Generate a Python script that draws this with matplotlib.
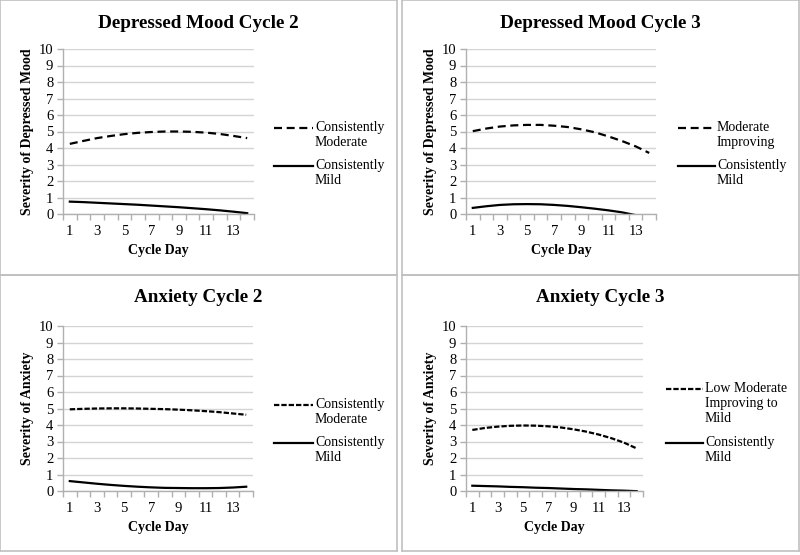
import numpy as np
import matplotlib
matplotlib.use("Agg")
import matplotlib.pyplot as plt
from matplotlib.lines import Line2D

plt.rcParams["font.family"] = ["Liberation Serif", "DejaVu Serif"]

days = np.arange(1, 15)
day_labels = ["1", "3", "5", "7", "9", "11", "13"]

# Depressed Mood Cycle 2
dm2_moderate = [4.25, 4.43, 4.6, 4.73, 4.84, 4.92, 4.97, 5.0, 5.0, 4.98, 4.93, 4.85, 4.73, 4.6]
dm2_mild = [0.75, 0.72, 0.68, 0.64, 0.6, 0.56, 0.51, 0.46, 0.41, 0.35, 0.29, 0.22, 0.14, 0.05]
# Depressed Mood Cycle 3
dm3_moderate = [5.02, 5.18, 5.3, 5.37, 5.4, 5.4, 5.35, 5.27, 5.13, 4.95, 4.7, 4.42, 4.1, 3.7]
dm3_mild = [0.37, 0.47, 0.55, 0.59, 0.6, 0.59, 0.55, 0.49, 0.41, 0.32, 0.22, 0.1, -0.07, -0.28]
# Anxiety Cycle 2
anx2_moderate = [4.95, 4.98, 5.0, 5.01, 5.01, 5.0, 4.98, 4.96, 4.93, 4.89, 4.84, 4.78, 4.7, 4.62]
anx2_mild = [0.6, 0.52, 0.44, 0.37, 0.31, 0.26, 0.22, 0.19, 0.18, 0.17, 0.17, 0.18, 0.21, 0.26]
# Anxiety Cycle 3
anx3_moderate = [3.7, 3.82, 3.9, 3.95, 3.97, 3.96, 3.92, 3.85, 3.74, 3.6, 3.42, 3.2, 2.93, 2.58]
anx3_mild = [0.32, 0.3, 0.28, 0.25, 0.23, 0.2, 0.18, 0.15, 0.12, 0.1, 0.07, 0.04, 0.02, -0.01]

W, H = 800, 555
fig = plt.figure(figsize=(8, 5.55), dpi=100)

GRID = "#d4d4d4"
AXC = "#b0b0b0"
LW = 1.6
long_dash = (3.6, 2.1)
short_dash = (2.4, 0.9)


def px(x, y):
    return x / W, 1 - y / H


def panel_box(x0, y0, x1, y1):
    l, t = px(x0, y0)
    r, b = px(x1, y1)
    for xs, ys in [([l, r], [t, t]), ([l, r], [b, b]), ([l, l], [b, t]), ([r, r], [b, t])]:
        fig.add_artist(Line2D(xs, ys, color="#c0c0c0", lw=1.2))


def make_axes(x0, x1, ytop, ybot):
    l, t = px(x0, ytop)
    r, b = px(x1, ybot)
    ax = fig.add_axes([l, b, r - l, t - b])
    ax.set_xlim(0.5, 14.5)
    ax.set_ylim(0, 10)
    ax.set_yticks(range(0, 11))
    ax.set_xticks([1, 3, 5, 7, 9, 11, 13])
    ax.set_xticklabels(day_labels)
    ax.set_xticks(np.arange(0.5, 15, 1), minor=True)
    ax.tick_params(axis="x", which="major", length=0, pad=8, labelsize=10.5)
    ax.tick_params(axis="x", which="minor", length=4, color=AXC, width=1)
    ax.tick_params(axis="y", length=4, color=AXC, width=1, labelsize=10.5, pad=3)
    for s in ["top", "right"]:
        ax.spines[s].set_visible(False)
    for s in ["left", "bottom"]:
        ax.spines[s].set_color(AXC)
        ax.spines[s].set_linewidth(1)
    ax.grid(axis="y", color=GRID, lw=1)
    ax.set_axisbelow(True)
    ax.set_xlabel("Cycle Day", fontsize=10, fontweight="bold", labelpad=4)
    return ax


def legend(hx0, hx1, tx, entries):
    # entries: (y of first line, dashes or None, text)
    for y, dash, text in entries:
        a, yy = px(hx0, y)
        b, _ = px(hx1, y)
        ln = Line2D([a, b], [yy, yy], color="black", lw=LW)
        if dash is not None:
            ln.set_dashes(dash)
        fig.add_artist(ln)
        fig.text(tx / W, yy + 0.013, text, fontsize=10, va="top", ha="left",
                 linespacing=1.22)


panels = [
    (0, 0, 397, 275, 63, 254, 49, 214, "Depressed Mood Cycle 2", "Severity of Depressed Mood",
     dm2_moderate, dm2_mild, long_dash, "Consistently\nModerate", 274, 313, 315, [128, 166]),
    (402, 0, 799, 275, 466, 656, 49, 214, "Depressed Mood Cycle 3", "Severity of Depressed Mood",
     dm3_moderate, dm3_mild, long_dash, "Moderate\nImproving", 678, 715, 717, [128, 166]),
    (0, 275, 397, 551, 63, 253, 326, 491, "Anxiety Cycle 2", "Severity of Anxiety",
     anx2_moderate, anx2_mild, short_dash, "Consistently\nModerate", 274, 313, 315, [405, 443]),
    (402, 275, 799, 551, 466, 643, 326, 491, "Anxiety Cycle 3", "Severity of Anxiety",
     anx3_moderate, anx3_mild, short_dash, "Low Moderate\nImproving to\nMild", 666, 703, 705, [389, 443]),
]

for (bx0, by0, bx1, by1, ax0, ax1, yt, yb, title, ylabel,
     moderate, mild, dash, mod_label, hx0, hx1, tx, ly) in panels:
    panel_box(bx0, by0, bx1, by1)
    ax = make_axes(ax0, ax1, yt, yb)
    ax.set_ylabel(ylabel, fontsize=10, fontweight="bold", labelpad=3)
    ln, = ax.plot(days, moderate, color="black", lw=LW)
    ln.set_dashes(dash)
    ax.plot(days, mild, color="black", lw=LW)
    cx, cy = px((bx0 + bx1) / 2, by0 + 23)
    fig.text(cx, cy, title, fontsize=13.8, fontweight="bold", ha="center", va="center")
    legend(hx0, hx1, tx, [(ly[0], dash, mod_label), (ly[1], None, "Consistently\nMild")])

fig.savefig("out.png", dpi=100)
